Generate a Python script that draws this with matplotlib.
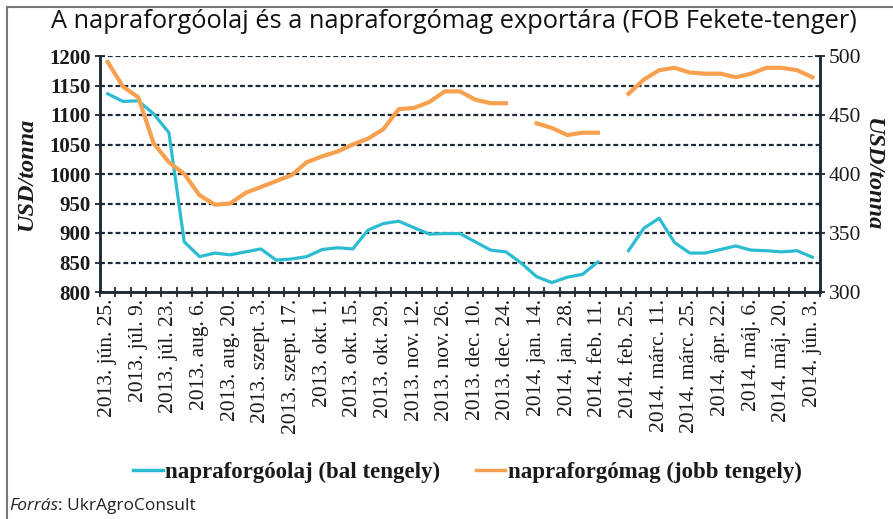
import matplotlib
matplotlib.use("Agg")
import matplotlib.pyplot as plt
import numpy as np

dates = ["2013. jún. 25.", "", "2013. júl. 9.", "", "2013. júl. 23.", "", "2013. aug. 6.", "",
         "2013. aug. 20.", "", "2013. szept. 3.", "", "2013. szept. 17.", "", "2013. okt. 1.", "",
         "2013. okt. 15.", "", "2013. okt. 29.", "", "2013. nov. 12.", "", "2013. nov. 26.", "",
         "2013. dec. 10.", "", "2013. dec. 24.", "", "2014. jan. 14.", "", "2014. jan. 28.", "",
         "2014. feb. 11.", "", "2014. feb. 25.", "", "2014. márc. 11.", "", "2014. márc. 25.", "",
         "2014. ápr. 22.", "", "2014. máj. 6.", "", "2014. máj. 20.", "", "2014. jún. 3."]

nan = np.nan
oil = [1136, 1123, 1124, 1102, 1070, 885, 860, 866, 863, 868, 873, 854, 856, 860, 872, 875,
       873, 905, 916, 920, 909, 898, 899, 899, 885, 871, 868, 849, 826, 816, 825, 830,
       851, nan, 870, 908, 925, 884, 866, 866, 872, 878, 871, 870, 868, 870, 859]
seed = [495, 474, 465, 426, 410, 400, 382, 374, 375, 384, 389, 394, 399, 410, 415, 419,
        425, 430, 438, 455, 456, 461, 470, 470, 463, 460, 460, nan, 443, 439, 433, 435,
        435, nan, 468, 480, 488, 490, 486, 485, 485, 482, 485, 490, 490, 488, 482]

left_ticks = [800, 850, 900, 950, 1000, 1050, 1100, 1150, 1200]
right_ticks = [300, 350, 400, 450, 500]

title = "A napraforgóolaj és a napraforgómag exportára (FOB Fekete-tenger)"
ylabel = "USD/tonna"
legend_labels = ["napraforgóolaj (bal tengely)", "napraforgómag (jobb tengely)"]

W, H = 893, 519
fig = plt.figure(figsize=(W / 100, H / 100), dpi=100)
serif = "Liberation Serif"
dark = "#1f2a36"
txt = "#1a1a1a"

ax = fig.add_axes([100 / W, 1 - 292 / H, 720 / W, 236 / H])
ax2 = ax.twinx()

n = len(dates)
x = np.arange(n)
ax.set_xlim(-0.5, n - 0.5)
ax.set_ylim(800, 1200)
ax2.set_ylim(300, 500)

for v in left_ticks[1:]:
    ax.axhline(v, color=dark, lw=1.6, ls=(0, (2.2, 1.3)), zorder=1)

l1, = ax.plot(x, oil, color="#2bbcd2", lw=2.3, zorder=3)
l2, = ax2.plot(x, seed, color="#f7a04f", lw=3.0, zorder=3)

ax.set_yticks(left_ticks)
ax.set_yticklabels([str(v) for v in left_ticks], fontfamily=serif, fontsize=15, fontweight="bold", color=txt)
ax2.set_yticks(right_ticks)
ax2.set_yticklabels([str(v) for v in right_ticks], fontfamily=serif, fontsize=15.5, color=txt)

ax.set_xticks(np.arange(-0.5, n, 1.0), minor=False)
ax.set_xticklabels([])
ax.set_xticks(x, minor=True)
ax.set_xticklabels(dates, minor=True, rotation=90, fontfamily=serif, fontsize=15.5, color=txt)
ax.tick_params(axis="x", which="major", direction="inout", length=7, width=1.3, color=dark)
ax.tick_params(axis="x", which="minor", length=0, pad=5)
ax.tick_params(axis="y", length=7, width=1.3, color=dark, direction="inout", pad=3)
ax2.tick_params(axis="y", length=7, width=1.3, color=dark, direction="inout", pad=3)

for a in (ax, ax2):
    a.spines["top"].set_visible(False)
    for s in ("left", "right", "bottom"):
        a.spines[s].set_color(dark)
        a.spines[s].set_linewidth(1.8)

fig.text(27 / W, 1 - 174 / H, ylabel, rotation=90, ha="center", va="center",
         fontfamily=serif, fontsize=17.5, fontstyle="italic", fontweight="bold", color=txt)
fig.text(873 / W, 1 - 174 / H, ylabel, rotation=270, ha="center", va="center",
         fontfamily=serif, fontsize=17.5, fontstyle="italic", fontweight="bold", color=txt)

fig.text(454 / W, 1 - 22 / H, title, ha="center", va="center", fontfamily="Open Sans",
         fontsize=18.3, color="#111111")

# legend
fig.add_artist(plt.Line2D([133 / W, 163 / W], [1 - 470 / H] * 2, color="#2bbcd2", lw=2.5))
fig.text(165 / W, 1 - 472 / H, legend_labels[0], ha="left", va="center", fontfamily=serif,
         fontsize=16.5, fontweight="bold", color=txt)
fig.add_artist(plt.Line2D([476 / W, 505 / W], [1 - 470 / H] * 2, color="#f7a04f", lw=2.5))
fig.text(508 / W, 1 - 472 / H, legend_labels[1], ha="left", va="center", fontfamily=serif,
         fontsize=16.5, fontweight="bold", color=txt)

t1 = fig.text(9 / W, 1 - 506 / H, "Forrás", ha="left", va="center", fontfamily="Open Sans",
              fontsize=12.5, fontstyle="italic", color="#222222")
fig.canvas.draw()
bb = t1.get_window_extent()
fig.text(bb.x1 / W, 1 - 506 / H, ": UkrAgroConsult", ha="left", va="center", fontfamily="Open Sans",
         fontsize=12.5, color="#222222")

# frame
fig.add_artist(plt.Line2D([7 / W, 1], [1 - 7 / H] * 2, color="#777777", lw=1.5))
fig.add_artist(plt.Line2D([7 / W, 7 / W], [0, 1 - 7 / H], color="#777777", lw=1.5))

fig.savefig("out.png", dpi=100)
